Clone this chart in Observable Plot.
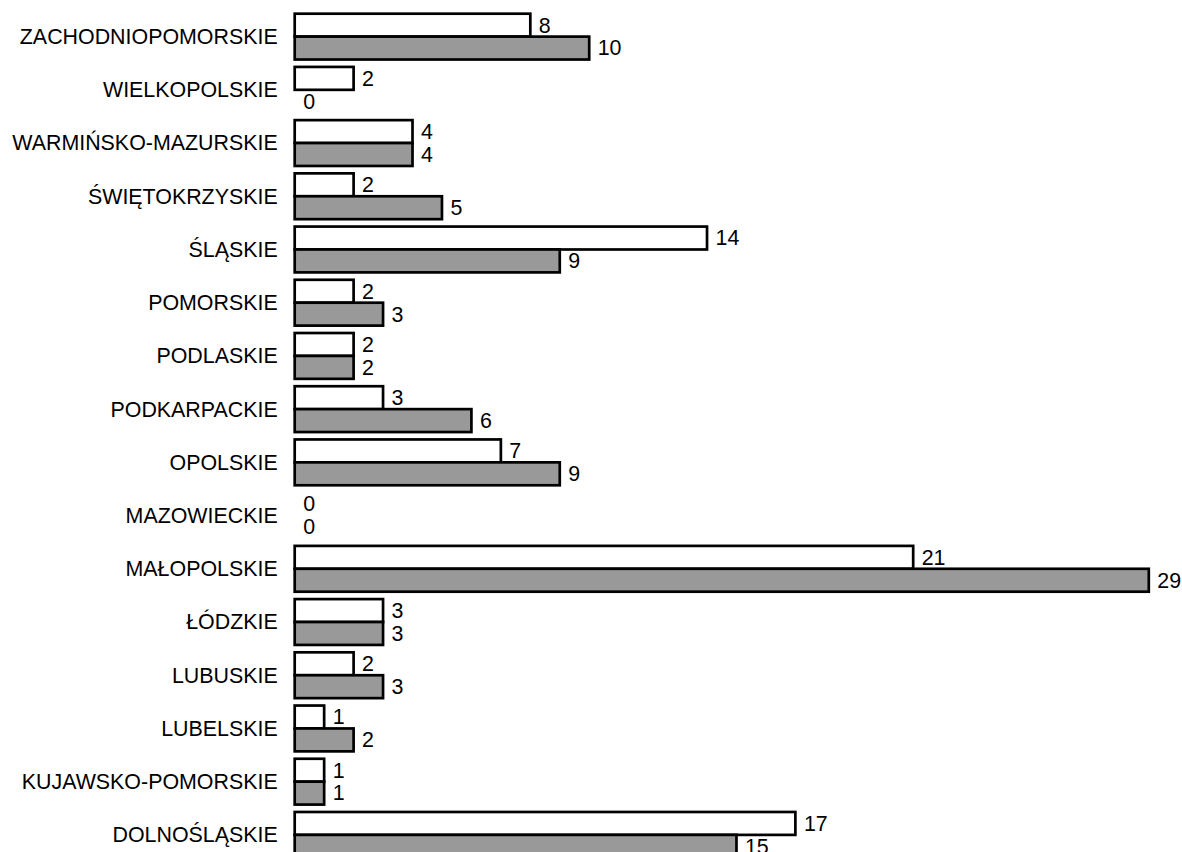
<!DOCTYPE html>
<html>
<head>
<meta charset="utf-8">
<script src="https://cdn.jsdelivr.net/npm/d3@7"></script>
<script src="https://cdn.jsdelivr.net/npm/@observablehq/plot@0.6"></script>
<style>
  html, body { margin: 0; padding: 0; background: white; }
  #chart svg { display: block; }
</style>
</head>
<body>
<div id="chart"></div>
<script>
const categories = [
  "ZACHODNIOPOMORSKIE", "WIELKOPOLSKIE", "WARMIŃSKO-MAZURSKIE", "ŚWIĘTOKRZYSKIE",
  "ŚLĄSKIE", "POMORSKIE", "PODLASKIE", "PODKARPACKIE", "OPOLSKIE", "MAZOWIECKIE",
  "MAŁOPOLSKIE", "ŁÓDZKIE", "LUBUSKIE", "LUBELSKIE", "KUJAWSKO-POMORSKIE", "DOLNOŚLĄSKIE"
];
const seriesNames = ["A", "B"];
const seriesA = [8, 2, 4, 2, 14, 2, 2, 3, 7, 0, 21, 3, 2, 1, 1, 17];
const seriesB = [10, 0, 4, 5, 9, 3, 2, 6, 9, 0, 29, 3, 3, 2, 1, 15];
const seriesColors = ["#ffffff", "#999999"];

const rows = categories.flatMap((c, i) => [
  {cat: c, s: seriesNames[0], v: seriesA[i]},
  {cat: c, s: seriesNames[1], v: seriesB[i]}
]);

const chart = Plot.plot({
  width: 1182,
  height: 858,
  marginLeft: 294.7,
  marginRight: 33.2,
  marginTop: 13.7,
  marginBottom: 0.2,
  style: {fontFamily: "'Liberation Sans', Arial, sans-serif", fontSize: "21.4px", color: "black", background: "white", overflow: "visible"},
  x: {domain: [0, 29], axis: null},
  y: {domain: seriesNames, padding: 0, round: false, axis: null},
  fy: {domain: categories, paddingInner: 0.139, paddingOuter: 0, align: 0.5, round: false, label: null, axis: "left", tickSize: 0, tickPadding: 17.5},
  color: {type: "ordinal", domain: seriesNames, range: seriesColors},
  marks: [
    Plot.barX(rows.filter(d => d.v > 0), {x1: 0, x2: "v", y: "s", fy: "cat", fill: "s", stroke: "black", strokeWidth: 2.7}),
    Plot.text(rows, {x: "v", y: "s", fy: "cat", text: d => String(d.v), textAnchor: "start", dx: 8, fill: "black", fontSize: 21.4})
  ]
});
document.getElementById("chart").appendChild(chart);
</script>
</body>
</html>
